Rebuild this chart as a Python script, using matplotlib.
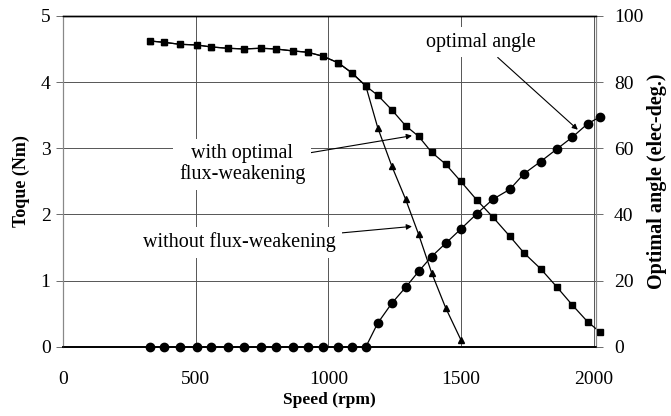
import matplotlib.pyplot as plt

# rpm values
speed = [327, 380, 440, 504, 557, 621, 681, 745, 801, 865, 922, 979, 1037,
         1088, 1141, 1186, 1239, 1291, 1340, 1389, 1442, 1499, 1559, 1620,
         1684, 1737, 1800, 1860, 1920, 1977, 2022]

# torque with optimal flux-weakening (Nm)
torque_fw = [4.62, 4.60, 4.57, 4.56, 4.53, 4.51, 4.50, 4.51, 4.50, 4.47, 4.45,
             4.39, 4.29, 4.14, 3.94, 3.80, 3.58, 3.34, 3.18, 2.94, 2.76, 2.50,
             2.22, 1.96, 1.67, 1.42, 1.18, 0.91, 0.63, 0.38, 0.23]

# torque without flux-weakening (Nm), ends at 1499 rpm
torque_nofw = [4.62, 4.60, 4.57, 4.56, 4.53, 4.51, 4.50, 4.51, 4.50, 4.47, 4.45,
               4.39, 4.29, 4.14, 3.94, 3.31, 2.73, 2.23, 1.70, 1.12, 0.59, 0.11]

# optimal angle (elec-deg.)
angle = [0, 0, 0, 0, 0, 0, 0, 0, 0, 0, 0, 0, 0, 0, 0,
         7.2, 13.2, 18.0, 22.8, 27.3, 31.3, 35.6, 40.2, 44.6, 47.6, 52.3,
         56.0, 59.7, 63.4, 67.4, 69.4]

plt.rcParams['font.family'] = ['Liberation Serif', 'DejaVu Serif']
plt.rcParams['font.size'] = 14

fig = plt.figure(figsize=(6.71, 4.16), dpi=100)
ax = fig.add_axes([0.094, 0.166, 0.794, 0.796])
ax2 = ax.twinx()

grid_c = '#555555'
ax.set_xlim(0, 2008)
ax.set_ylim(0, 5)
ax2.set_ylim(0, 100)
ax.set_xticks([0, 500, 1000, 1500, 2000])
ax.set_yticks([0, 1, 2, 3, 4, 5])
ax2.set_yticks([0, 20, 40, 60, 80, 100])
ax.grid(True, color=grid_c, linewidth=0.7)
ax.set_axisbelow(True)

ax.plot(speed, torque_fw, color='black', lw=0.9, marker='s', ms=4.8,
        clip_on=False, zorder=5)
ax.plot(speed[:len(torque_nofw)], torque_nofw, color='black', lw=0.9,
        marker='^', ms=5, clip_on=False, zorder=5)
ax2.plot(speed, angle, color='black', lw=0.9, marker='o', ms=6,
         clip_on=False, zorder=5)

for a in (ax, ax2):
    a.spines['left'].set_color('#888888')
    a.spines['right'].set_color('#888888')
    a.spines['top'].set_linewidth(1.0)
    a.spines['bottom'].set_linewidth(1.2)
ax.tick_params(axis='x', length=0, pad=17)
ax.tick_params(axis='y', length=5, width=0.6, color=grid_c, pad=4)
ax2.tick_params(axis='y', length=5, width=0.6, color=grid_c, pad=8)

ax.set_xlabel('Speed (rpm)', fontweight='bold', fontsize=12.5, labelpad=3)
ax.set_ylabel('Toque (Nm)', fontweight='bold', fontsize=13, labelpad=8)
ax2.set_ylabel('Optimal angle (elec-deg.)', fontweight='bold', fontsize=14.5,
               labelpad=3)

box = dict(facecolor='white', edgecolor='none', pad=4)
arrow = dict(arrowstyle='-|>', color='black', lw=0.8, mutation_scale=8,
             shrinkA=0, shrinkB=0)
ax.annotate('optimal angle', xy=(1940, 3.28), xytext=(1575, 4.6),
            ha='center', va='center', bbox=box, arrowprops=arrow,
            fontsize=14.5, zorder=6)
ax.annotate('with optimal\nflux-weakening', xy=(1315, 3.19), xytext=(675, 2.76),
            ha='center', va='center', bbox=box, arrowprops=arrow,
            fontsize=14.5, linespacing=1.05, zorder=6)
ax.annotate('without flux-weakening', xy=(1315, 1.82), xytext=(665, 1.58),
            ha='center', va='center', bbox=box, arrowprops=arrow,
            fontsize=14.5, zorder=6)

fig.savefig('out.png', dpi=100)
